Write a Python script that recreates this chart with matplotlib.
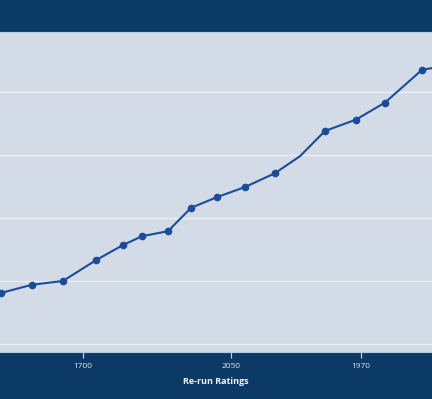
import matplotlib
matplotlib.use("Agg")
import matplotlib.pyplot as plt

# Data
x_pos = [1, 32, 63, 96, 123, 142, 168, 191, 217, 245, 275, 300, 325, 356, 385, 422, 455]
ratings = [181, 194, 200, 233, 257, 271, 279, 316, 333, 349, 371, 398, 438, 456, 483, 535, 544]
tick_pos = [83, 231, 361]
tick_labels = ["1700", "2050", "1970"]
grid_vals = [100, 200, 300, 400, 500]

NAVY = "#0c3a67"
PLOT_BG = "#d3dbe6"
LINE = "#1b4c9c"

fig = plt.figure(figsize=(4.32, 3.99), dpi=100, facecolor=NAVY)
ax = fig.add_axes([0, 47 / 399, 1, 320 / 399])
ax.set_facecolor(PLOT_BG)

ax.plot(x_pos, ratings, color=LINE, lw=1.5, marker="o", ms=4.5,
        markevery=[i for i in range(len(x_pos)) if i != 11], zorder=3, clip_on=True)

ax.set_xlim(0, 432)
ax.set_ylim(87.3, 595)
ax.set_yticks(grid_vals)
ax.yaxis.grid(True, color="#eaeff5", lw=1.0)
ax.xaxis.grid(False)
ax.tick_params(axis="y", left=False, labelleft=False)

ax.set_xticks(tick_pos)
ax.set_xticklabels(tick_labels, fontsize=6, color="#dfe6ef", family="Open Sans")
ax.tick_params(axis="x", length=4, width=0.8, color="#c9d5e4", pad=4)

for s in ["left", "right"]:
    ax.spines[s].set_visible(False)
for s in ["top", "bottom"]:
    ax.spines[s].set_color("#b9c9dc")
    ax.spines[s].set_linewidth(0.8)

ax.set_xlabel("Re-run Ratings", fontsize=6.5, color="#eef2f7", fontweight="bold",
              family="Open Sans", labelpad=5)

fig.savefig("out.png", dpi=100, facecolor=NAVY)
